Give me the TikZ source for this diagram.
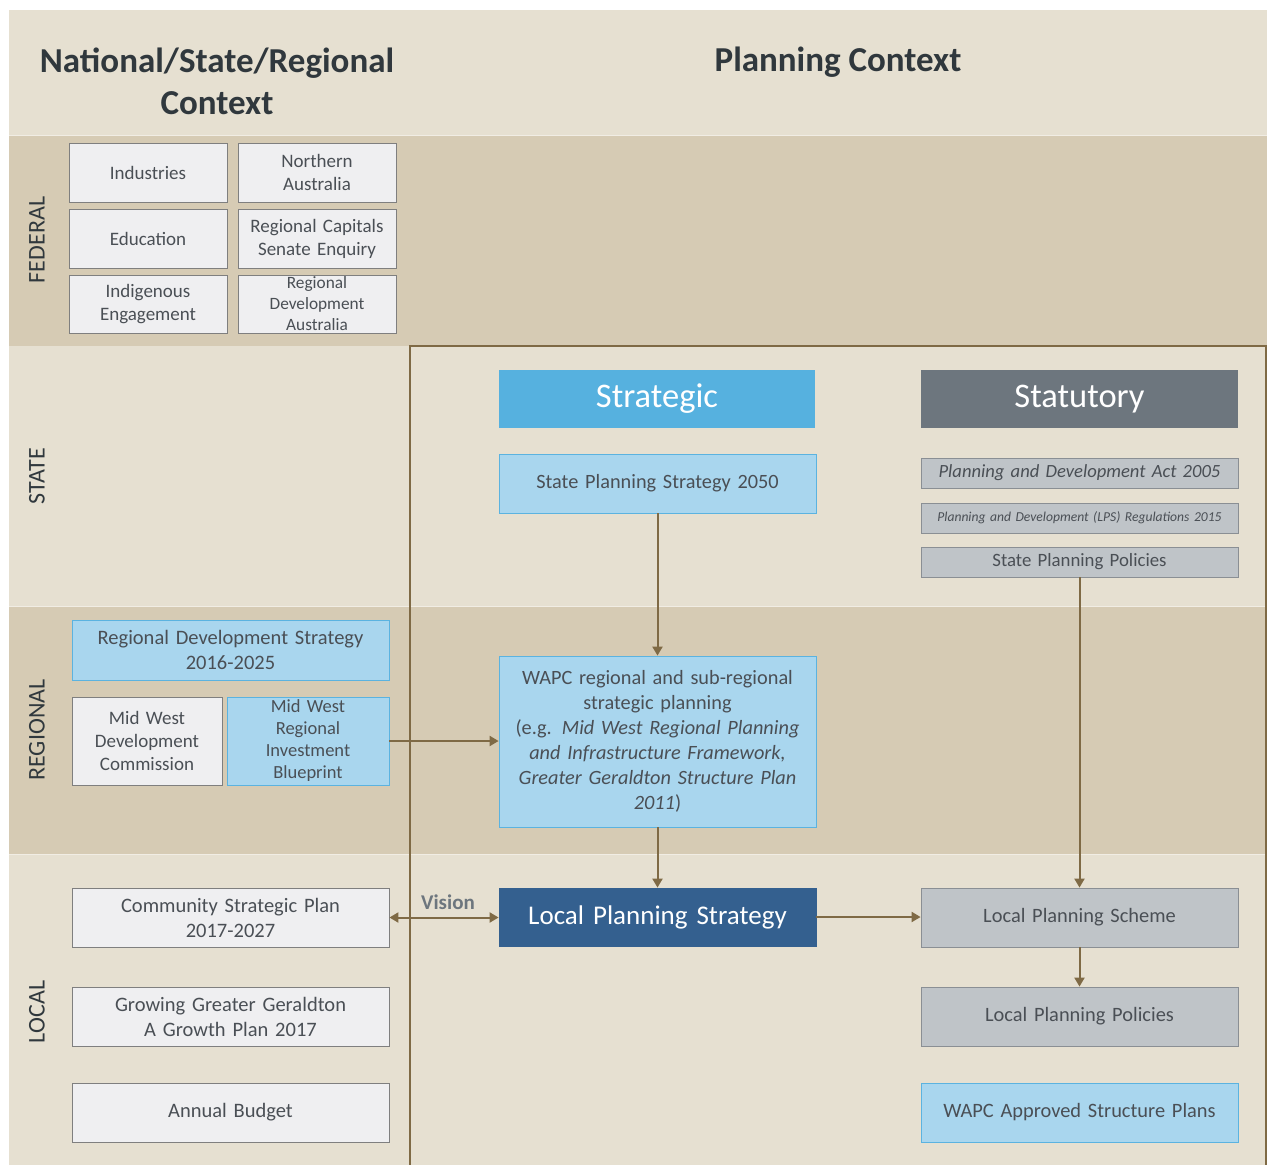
\documentclass[tikz,border=0pt]{standalone}
\usepackage{fontspec}
\setmainfont{Carlito}
\usetikzlibrary{arrows.meta}
\definecolor{lightbg}{HTML}{E6E0D1}
\definecolor{darkbg}{HTML}{D6CBB4}
\definecolor{sepline}{HTML}{F1EDE4}
\definecolor{wfill}{HTML}{EFEFF1}
\definecolor{wdraw}{HTML}{7F7F7F}
\definecolor{bfill}{HTML}{A9D6EE}
\definecolor{bdraw}{HTML}{5BB3E0}
\definecolor{strat}{HTML}{56B1DF}
\definecolor{statu}{HTML}{6D767E}
\definecolor{lps}{HTML}{34608F}
\definecolor{gfill}{HTML}{BFC4C8}
\definecolor{gdraw}{HTML}{8A8F94}
\definecolor{txt}{HTML}{4A4F55}
\definecolor{ttl}{HTML}{30383D}
\definecolor{arr}{HTML}{7F6A45}
\newcommand\bx[7]{%
 \pgfmathsetmacro\cx{(#3+#5)/2}\pgfmathsetmacro\cy{(#4+#6)/2}%
 \pgfmathsetmacro\bw{#5-#3}\pgfmathsetmacro\bh{#6-#4}\pgfmathsetmacro\tw{#5-#3-4}%
 \node[#2, minimum width=\bw pt, minimum height=\bh pt, text width=\tw pt] (#1) at (\cx,\cy) {#7};}
\newcommand\fs[2]{\fontsize{#1}{#2}\selectfont}
\begin{document}
\begin{tikzpicture}[x=1pt,y=-1pt,
  base/.style={line width=0.8pt, align=center, inner sep=0pt, text=txt},
  wbox/.style={base, draw=wdraw, fill=wfill},
  bbox/.style={base, draw=bdraw, fill=bfill},
  gbox/.style={base, draw=gdraw, fill=gfill},
  hbox/.style={base, text=white},
  tip/.tip={Triangle[length=9pt,width=10pt]},
  conn/.style={draw=arr, line width=2pt, -tip},
  band/.style={rotate=90, text=ttl, font=\fs{24}{28}}]
\useasboundingbox (0,0) rectangle (1270,1165);
\fill[white] (0,0) rectangle (1270,1165);
\fill[lightbg] (9,10) rectangle (1267,1165);
\fill[darkbg] (9,136) rectangle (1267,346);
\fill[darkbg] (9,607) rectangle (1267,854);
\draw[sepline, line width=1pt] (9,135.5) -- (1267,135.5);
\draw[sepline, line width=1pt] (9,606.5) -- (1267,606.5);
\draw[sepline, line width=1pt] (9,854) -- (1267,854);
\draw[arr, line width=2pt] (410,1166) -- (410,346) -- (1266,346) -- (1266,1166);

% titles
\node[text=ttl, font=\fs{35}{42}\bfseries, align=center] (t1) at (217,81) {National/State/Regional\\Context};
\node[text=ttl, font=\fs{35}{42}\bfseries] (t2) at (838,62) {Planning Context};

% band labels
\node[band] (lf) at (37,240) {FEDERAL};
\node[band] (ls) at (37,476) {STATE};
\node[band] (lr) at (37,730) {REGIONAL};
\node[band] (ll) at (37,1012) {LOCAL};

% federal
\bx{ind}{wbox, font=\fs{19}{23}}{69}{143}{227}{202}{Industries}
\bx{na}{wbox, font=\fs{19}{23}}{238}{143}{396}{202}{Northern\\Australia}
\bx{edu}{wbox, font=\fs{19}{23}}{69}{209}{227}{268}{Education}
\bx{rc}{wbox, font=\fs{19}{23}}{238}{209}{396}{268}{Regional Capitals\\Senate Enquiry}
\bx{ie}{wbox, font=\fs{19}{23}}{69}{275}{227}{333}{Indigenous\\Engagement}
\bx{rda}{wbox, font=\fs{17.3}{21}}{238}{275}{396}{333}{Regional\\Development\\Australia}

% headers
\bx{strh}{hbox, fill=strat, font=\fs{34.5}{38}}{499}{370}{815}{428}{Strategic}
\bx{stah}{hbox, fill=statu, font=\fs{34.5}{38}}{921}{370}{1238}{428}{Statutory}

% state
\bx{sps}{bbox, font=\fs{20.3}{24}}{499}{454}{816}{513}{State Planning Strategy 2050}
\bx{pda}{gbox, font=\fs{18.6}{22}\itshape}{921}{458}{1238}{488}{Planning and Development Act 2005}
\bx{reg}{gbox, font=\fs{13.6}{16}\itshape}{921}{503}{1238}{533}{Planning and Development (LPS) Regulations 2015}
\bx{spp}{gbox, font=\fs{18.8}{22}}{921}{547}{1238}{577}{State Planning Policies}

% regional
\bx{rds}{bbox, font=\fs{20.5}{25}}{72}{620}{389}{680}{Regional Development Strategy\\2016-2025}
\bx{mwdc}{wbox, font=\fs{19}{23}}{72}{697}{222}{785}{Mid West\\Development\\Commission}
\bx{mwb}{bbox, font=\fs{18.5}{22}}{227}{697}{389}{785}{Mid West\\Regional\\Investment\\Blueprint}
\bx{wapc}{bbox, font=\fs{20.3}{25}}{499}{656}{816}{827}{WAPC regional and sub-regional\\strategic planning\\(e.g. \textit{Mid West Regional Planning}\\\textit{and Infrastructure Framework,}\\\textit{Greater Geraldton Structure Plan}\\\textit{2011})}

% local
\bx{csp}{wbox, font=\fs{20.5}{25}}{72}{888}{389}{947}{Community Strategic Plan\\2017-2027}
\bx{lpst}{hbox, fill=lps, draw=lps, font=\fs{27}{30}}{499}{888}{816}{946}{Local Planning Strategy}
\bx{lsch}{gbox, font=\fs{20.4}{24}}{921}{888}{1238}{947}{Local Planning Scheme}
\bx{ggg}{wbox, font=\fs{20.5}{25}}{72}{987}{389}{1046}{Growing Greater Geraldton\\A Growth Plan 2017}
\bx{lpp}{gbox, font=\fs{20.4}{24}}{921}{987}{1238}{1046}{Local Planning Policies}
\bx{ab}{wbox, font=\fs{20.5}{24}}{72}{1083}{389}{1142}{Annual Budget}
\bx{asp}{bbox, font=\fs{20.4}{24}}{921}{1083}{1238}{1142}{WAPC Approved Structure Plans}

% connectors
\draw[conn] (sps.south) -- (wapc.north);
\draw[conn] (mwb.east) -- (mwb.east -| wapc.west);
\draw[conn] (wapc.south) -- (lpst.north);
\draw[conn] (spp.south) -- (lsch.north);
\draw[conn, tip-tip] (csp.east) -- (csp.east -| lpst.west);
\draw[conn] (lpst.east) -- (lpst.east -| lsch.west);
\draw[conn] (lsch.south) -- (lpp.north);
\node[text=statu, font=\fs{21}{24}\bfseries] (vis) at (448,902) {Vision};
\end{tikzpicture}
\end{document}
